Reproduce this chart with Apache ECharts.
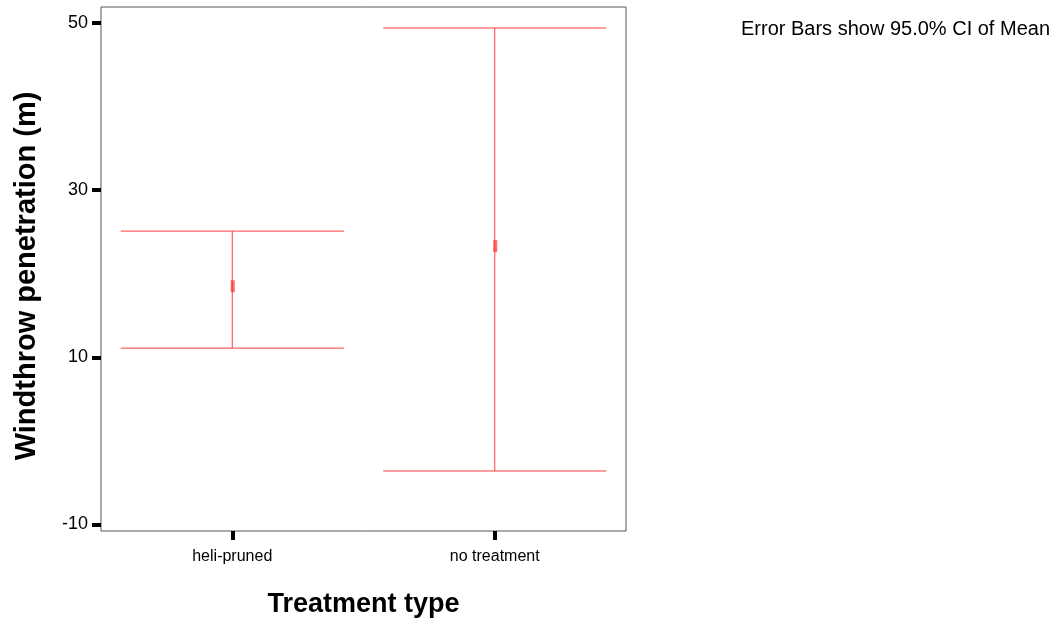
<!DOCTYPE html>
<html>
<head>
<meta charset="utf-8">
<script src="https://cdn.jsdelivr.net/npm/echarts@6/dist/echarts.min.js"></script>
<style>
  html, body { margin: 0; padding: 0; background: #fff; }
  #chart { width: 1058px; height: 621px; }
</style>
</head>
<body>
<div id="chart"></div>
<script>
// Windthrow penetration by treatment: mean with 95% confidence interval
const categories = ['heli-pruned', 'no treatment'];
const means = [18.5, 23.3];
const lowerCI = [11.1, -3.6];
const upperCI = [25.1, 49.4];
const yTicks = [-10, 10, 30, 50];

const FONT = '"Liberation Sans", Arial, Helvetica, sans-serif';
const RED = 'rgb(255,60,60)';

const seriesData = categories.map((c, i) => [i, means[i], lowerCI[i], upperCI[i]]);

function redLine(x1, y1, x2, y2) {
  return {
    type: 'line',
    shape: { x1: x1, y1: y1, x2: x2, y2: y2 },
    style: { stroke: RED, lineWidth: 1, fill: null }
  };
}

function renderErrorBar(params, api) {
  const idx = api.value(0);
  const top = api.coord([idx, api.value(3)]);
  const bot = api.coord([idx, api.value(2)]);
  const mid = api.coord([idx, api.value(1)]);
  const half = api.size([1, 0])[0] * 0.425;
  return {
    type: 'group',
    children: [
      redLine(top[0], top[1], bot[0], bot[1]),
      redLine(top[0] - half, top[1], top[0] + half, top[1]),
      redLine(bot[0] - half, bot[1], bot[0] + half, bot[1]),
      { type: 'rect', shape: { x: mid[0] - 1.5, y: mid[1] - 6, width: 4, height: 12 },
        style: { fill: 'rgba(255,50,50,0.7)', stroke: null } }
    ]
  };
}

const chart = echarts.init(document.getElementById('chart'), null, { renderer: 'canvas' });
chart.setOption({
  animation: false,
  backgroundColor: '#fff',
  grid: {
    left: 101, top: 7, width: 525, height: 524,
    outerBoundsMode: 'none',
    containLabel: false,
    show: true, borderColor: '#555', borderWidth: 1, backgroundColor: 'transparent'
  },
  xAxis: {
    type: 'category',
    data: categories,
    boundaryGap: true,
    name: 'Treatment type',
    nameLocation: 'middle',
    nameGap: 60,
    nameTextStyle: { fontFamily: FONT, fontSize: 27, fontWeight: 'bold', color: '#000' },
    axisLine: { show: false, onZero: false },
    axisTick: { show: true, alignWithLabel: true, length: 9, lineStyle: { color: '#000', width: 4 } },
    axisLabel: { fontFamily: FONT, fontSize: 16, color: '#000', margin: 18 },
    splitLine: { show: false }
  },
  yAxis: {
    type: 'value',
    min: -10.78,
    max: 51.91,
    name: 'Windthrow penetration (m)',
    nameLocation: 'middle',
    nameGap: 60,
    nameTextStyle: { fontFamily: FONT, fontSize: 29, fontWeight: 'bold', color: '#000', padding: [0, 14, 0, 0] },
    axisLine: { show: false, onZero: false },
    axisTick: { show: true, length: 9, customValues: yTicks, lineStyle: { color: '#000', width: 4 } },
    axisLabel: { fontFamily: FONT, fontSize: 18, color: '#000', margin: 13, customValues: yTicks },
    splitLine: { show: false }
  },
  graphic: [{
    type: 'text',
    left: 741,
    top: 19,
    style: { text: 'Error Bars show 95.0% CI of Mean', font: '20px ' + FONT, fill: '#000' }
  }],
  series: [{
    type: 'custom',
    renderItem: renderErrorBar,
    encode: { x: 0, y: [1, 2, 3] },
    data: seriesData,
    clip: false
  }]
});
</script>
</body>
</html>
